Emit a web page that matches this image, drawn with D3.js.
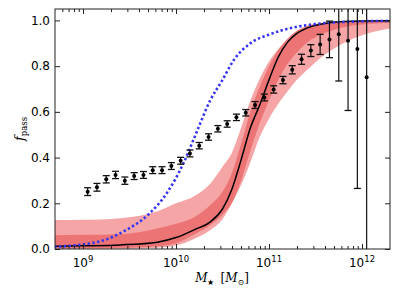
<!DOCTYPE html>
<html>
<head>
<meta charset="utf-8">
<script src="https://cdn.jsdelivr.net/npm/d3@7"></script>
<style>
  body { margin: 0; background: #fff; }
  svg { display: block; }
</style>
</head>
<body>
<svg id="chart" width="399" height="299"></svg>
<script>
// observed fractions (binned in log stellar mass)
const obsLogM = [9.05, 9.15, 9.25, 9.35, 9.45, 9.55, 9.65, 9.75, 9.85, 9.95, 10.05, 10.15, 10.25, 10.35, 10.45, 10.55,
  10.65, 10.75, 10.85, 10.95, 11.05, 11.15, 11.25, 11.35, 11.45, 11.55, 11.65, 11.75, 11.85, 11.95, 12.05];
const obsFrac = [0.251, 0.270, 0.305, 0.324, 0.299, 0.319, 0.324, 0.345, 0.345, 0.363, 0.386, 0.418, 0.452, 0.490,
  0.526, 0.547, 0.576, 0.596, 0.630, 0.663, 0.698, 0.739, 0.784, 0.830, 0.868, 0.895, 0.917, 0.939, 0.911, 0.875, 0.751];
const obsErr = [0.017, 0.017, 0.016, 0.016, 0.016, 0.015, 0.015, 0.015, 0.015, 0.015, 0.015, 0.015, 0.014, 0.014,
  0.014, 0.014, 0.014, 0.014, 0.015, 0.015, 0.016, 0.016, 0.018, 0.022, 0.026, 0.044, 0.08, 0.204, 0.305, 0.61, 0.85];

// model median and credible bands
const modelLogM = [8.69, 9.0, 9.4, 9.8, 10.0, 10.2, 10.37, 10.5, 10.6, 10.7, 10.8, 10.9, 11.0, 11.1, 11.2, 11.3,
  11.4, 11.6, 11.8, 12.0, 12.31];
const modelMedian = [0.012, 0.014, 0.018, 0.03, 0.05, 0.085, 0.119, 0.175, 0.26, 0.39, 0.53, 0.63, 0.74, 0.84,
  0.905, 0.943, 0.965, 0.987, 0.995, 0.998, 0.999];
const innerHi = [0.06, 0.062, 0.065, 0.09, 0.11, 0.14, 0.192, 0.25, 0.33, 0.46, 0.6, 0.71, 0.8, 0.87, 0.92, 0.955,
  0.975, 0.99, 0.996, 0.999, 1.0];
const innerLo = [0.003, 0.004, 0.005, 0.012, 0.025, 0.065, 0.105, 0.15, 0.2, 0.3, 0.43, 0.55, 0.65, 0.74, 0.81,
  0.86, 0.9, 0.945, 0.97, 0.982, 0.99];
const outerHi = [0.127, 0.128, 0.135, 0.165, 0.2, 0.232, 0.287, 0.36, 0.42, 0.53, 0.65, 0.745, 0.82, 0.875, 0.92,
  0.95, 0.97, 0.987, 0.994, 0.998, 1.0];
const outerLo = [0.0, 0.0, 0.001, 0.006, 0.015, 0.045, 0.083, 0.13, 0.2, 0.28, 0.38, 0.49, 0.57, 0.635, 0.69, 0.74,
  0.78, 0.85, 0.9, 0.935, 0.965];

// comparison curve (blue dotted)
const altLogM = [8.69, 9.0, 9.2, 9.45, 9.7, 9.9, 10.08, 10.2, 10.37, 10.5, 10.62, 10.8, 11.0, 11.15, 11.5, 12.0, 12.31];
const altFrac = [0.01, 0.02, 0.035, 0.08, 0.15, 0.244, 0.375, 0.49, 0.652, 0.74, 0.826, 0.9, 0.938, 0.958, 0.984,
  0.996, 0.998];

const yTicks = [0.0, 0.2, 0.4, 0.6, 0.8, 1.0];
const xMajor = [9, 10, 11, 12];

const W = 399, H = 299;
const margin = { top: 9, right: 9, bottom: 50, left: 55 };
const svg = d3.select("#chart");

const x = d3.scaleLog().domain([5e8, 2e12]).range([margin.left, W - margin.right]);
const y = d3.scaleLinear().domain([0, 1.05]).range([H - margin.bottom, margin.top]);
const mx = (lm) => x(Math.pow(10, lm));

svg.append("clipPath").attr("id", "clip")
  .append("rect")
  .attr("x", margin.left).attr("y", margin.top)
  .attr("width", W - margin.left - margin.right)
  .attr("height", H - margin.top - margin.bottom);

const plot = svg.append("g").attr("clip-path", "url(#clip)");

const band = (lo, hi) => d3.area()
  .x((d, i) => mx(modelLogM[i]))
  .y0((d, i) => y(lo[i]))
  .y1((d, i) => y(hi[i]))
  .curve(d3.curveMonotoneX);

plot.append("path").datum(modelLogM)
  .attr("d", band(outerLo, outerHi))
  .attr("fill", "#f5a5a5");

plot.append("path").datum(modelLogM)
  .attr("d", band(innerLo, innerHi))
  .attr("fill", "#ec7474");

plot.append("path").datum(modelLogM)
  .attr("d", d3.line().x((d, i) => mx(modelLogM[i])).y((d, i) => y(modelMedian[i])).curve(d3.curveMonotoneX))
  .attr("fill", "none").attr("stroke", "#000").attr("stroke-width", 1.5);

plot.append("path").datum(altLogM)
  .attr("d", d3.line().x((d, i) => mx(altLogM[i])).y((d, i) => y(altFrac[i])).curve(d3.curveMonotoneX))
  .attr("fill", "none").attr("stroke", "#3535f2").attr("stroke-width", 2.6)
  .attr("stroke-dasharray", "2.4,2.4");

// error bars
const pts = obsLogM.map((lm, i) => ({ lm, f: obsFrac[i], e: obsErr[i] }));
const eb = plot.append("g").selectAll("g").data(pts).enter().append("g");
eb.append("line")
  .attr("x1", (d) => mx(d.lm)).attr("x2", (d) => mx(d.lm))
  .attr("y1", (d) => y(d.f - d.e)).attr("y2", (d) => y(d.f + d.e))
  .attr("stroke", "#111").attr("stroke-width", 1.2);
[-1, 1].forEach((s) => {
  eb.append("line")
    .attr("x1", (d) => mx(d.lm) - 3.5).attr("x2", (d) => mx(d.lm) + 3.5)
    .attr("y1", (d) => y(d.f + s * d.e)).attr("y2", (d) => y(d.f + s * d.e))
    .attr("stroke", "#111").attr("stroke-width", 1.3);
});
eb.append("circle")
  .attr("cx", (d) => mx(d.lm)).attr("cy", (d) => y(d.f))
  .attr("r", 2).attr("fill", "#000");

// axes: ticks pointing inward on all four sides
const minor = [];
for (let k = 8; k <= 12; k++) {
  for (let m = 2; m <= 9; m++) {
    const v = m * Math.pow(10, k);
    if (v > 5e8 && v < 2e12) minor.push(v);
  }
}
const major = xMajor.map((p) => Math.pow(10, p));
const axStyle = (g) => {
  g.select(".domain").remove();
  g.selectAll("line").attr("stroke", "#222");
  g.selectAll("text").remove();
};
const yB = H - margin.bottom, yT = margin.top;
svg.append("g").attr("transform", `translate(0,${yB})`)
  .call(d3.axisBottom(x).tickValues(major).tickSize(-5).tickFormat("")).call(axStyle);
svg.append("g").attr("transform", `translate(0,${yB})`)
  .call(d3.axisBottom(x).tickValues(minor).tickSize(-3).tickFormat("")).call(axStyle);
svg.append("g").attr("transform", `translate(0,${yT})`)
  .call(d3.axisTop(x).tickValues(major).tickSize(-5).tickFormat("")).call(axStyle);
svg.append("g").attr("transform", `translate(0,${yT})`)
  .call(d3.axisTop(x).tickValues(minor).tickSize(-3).tickFormat("")).call(axStyle);
svg.append("g").attr("transform", `translate(${margin.left},0)`)
  .call(d3.axisLeft(y).tickValues(yTicks).tickSize(-5).tickFormat("")).call(axStyle);
svg.append("g").attr("transform", `translate(${W - margin.right},0)`)
  .call(d3.axisRight(y).tickValues(yTicks).tickSize(-5).tickFormat("")).call(axStyle);

svg.append("rect")
  .attr("x", margin.left).attr("y", margin.top)
  .attr("width", W - margin.left - margin.right)
  .attr("height", H - margin.top - margin.bottom)
  .attr("fill", "none").attr("stroke", "#222").attr("stroke-width", 1);

// tick labels
svg.append("g").selectAll("text").data(yTicks).enter().append("text")
  .attr("x", margin.left - 5).attr("y", (d) => y(d)).attr("dy", "0.36em")
  .attr("text-anchor", "end")
  .attr("font-family", "DejaVu Sans").attr("font-size", 12).attr("fill", "#000")
  .text((d) => d3.format(".1f")(d));

const xl = svg.append("g").selectAll("text").data(xMajor).enter().append("text")
  .attr("x", (d) => x(Math.pow(10, d))).attr("y", 266.5)
  .attr("text-anchor", "middle")
  .attr("font-family", "DejaVu Sans").attr("font-size", 12).attr("fill", "#000");
xl.append("tspan").text("10");
xl.append("tspan").attr("dy", -5).attr("font-size", 8.5).text((d) => d);

// axis titles
const yl = svg.append("text")
  .attr("transform", "translate(24,129) rotate(-90)")
  .attr("text-anchor", "middle")
  .attr("font-family", "DejaVu Serif").attr("fill", "#000");
yl.append("tspan").attr("font-style", "italic").attr("font-size", 13).text("f");
yl.append("tspan").attr("dy", 3).attr("font-size", 8.5).text("pass");

const xt = svg.append("text")
  .attr("x", 222).attr("y", 282)
  .attr("text-anchor", "middle")
  .attr("font-family", "DejaVu Serif").attr("font-size", 12).attr("fill", "#000");
xt.append("tspan").attr("font-style", "italic").text("M");
xt.append("tspan").attr("dy", 2.5).attr("font-size", 8).text("\u2605");
xt.append("tspan").attr("dy", -2.5).text("\u2002[");
xt.append("tspan").attr("font-style", "italic").text("M");
xt.append("tspan").attr("dy", 2.5).attr("font-size", 8).text("\u2299");
xt.append("tspan").attr("dy", -2.5).text("]");
</script>
</body>
</html>
